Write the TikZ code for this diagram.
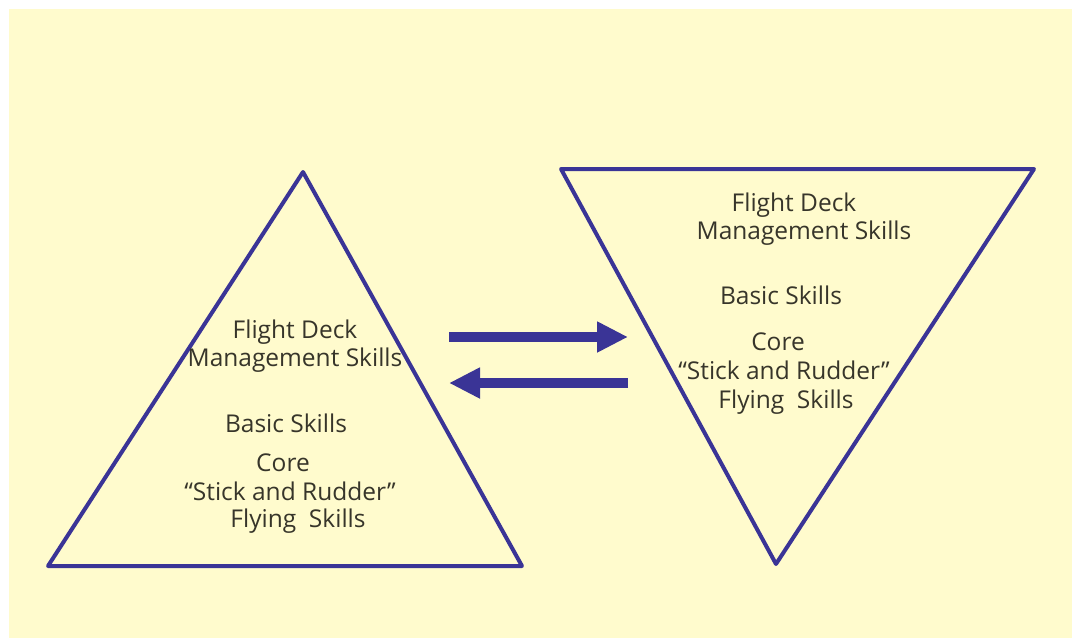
\documentclass[tikz,border=0pt]{standalone}
\usepackage{fontspec}
\setmainfont{Open Sans}
\usetikzlibrary{arrows.meta}
\definecolor{bgyellow}{RGB}{255,251,205}
\definecolor{lineblue}{RGB}{58,52,150}
\definecolor{txtgray}{RGB}{55,53,42}
\tikzset{
  tri/.style={draw=lineblue, line width=4pt, line join=round},
  lbl/.style={text=txtgray, font=\fontsize{24.5}{28}\selectfont, inner sep=0pt, anchor=center},
  bigarrow/.style={draw=lineblue, line width=10pt, -{Triangle[length=31pt,width=29pt]}}
}
\begin{document}
\begin{tikzpicture}[x=1pt,y=-1pt]
\useasboundingbox (0,0) rectangle (1072,638);
\fill[white] (0,0) rectangle (1072,638);
\fill[bgyellow] (9,9) rectangle (1072,638);
% left triangle
\coordinate (L1) at (303,172);
\coordinate (L2) at (48,566);
\coordinate (L3) at (522,566);
\draw[tri] (L1) -- (L2) -- (L3) -- cycle;
% right triangle
\coordinate (R1) at (561,169);
\coordinate (R2) at (1034,169);
\coordinate (R3) at (776,564);
\draw[tri] (R1) -- (R2) -- (R3) -- cycle;
% arrows
\coordinate (A1s) at (449,337);
\coordinate (A1e) at (628,337);
\coordinate (A2s) at (628,383);
\coordinate (A2e) at (449,383);
\draw[bigarrow] (A1s) -- (A1e);
\draw[bigarrow] (A2s) -- (A2e);
% left labels
\node[lbl] (lf) at (295,332) {Flight Deck};
\node[lbl] (lm) at (295,360) {Management Skills};
\node[lbl] (lb) at (286,423) {Basic Skills};
\node[lbl] (lc) at (283,463) {Core};
\node[lbl] (ls) at (290,491) {“Stick and Rudder”};
\node[lbl] (ly) at (298,521) {Flying\ \ Skills};
% right labels
\node[lbl] (rf) at (794,205) {Flight Deck};
\node[lbl] (rm) at (804,233) {Management Skills};
\node[lbl] (rb) at (781,295) {Basic Skills};
\node[lbl] (rc) at (778,342) {Core};
\node[lbl] (rs) at (784,370) {“Stick and Rudder”};
\node[lbl] (ry) at (786,402) {Flying\ \ Skills};
\end{tikzpicture}
\end{document}
